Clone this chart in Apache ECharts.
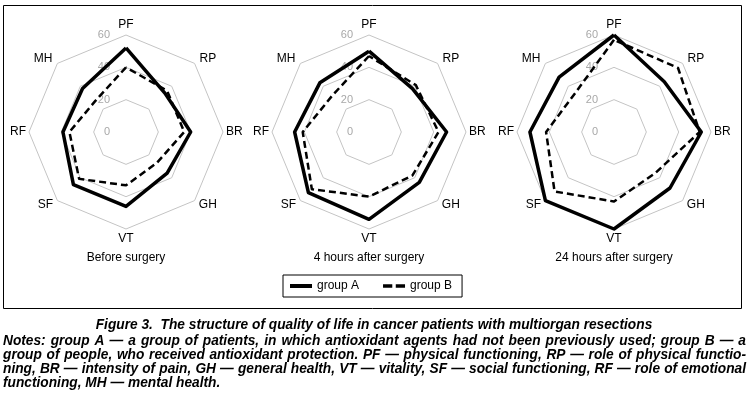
<!DOCTYPE html>
<html><head><meta charset="utf-8">
<script src="https://cdn.jsdelivr.net/npm/echarts@6/dist/echarts.min.js"></script>
<style>html,body{margin:0;padding:0;background:#fff}#c{width:751px;height:396px}</style>
</head><body><div id="c"></div>
<script>
// ---- data ----
const categories = ['PF', 'RP', 'BR', 'GH', 'VT', 'SF', 'RF', 'MH']; // clockwise from top
const panelTitles = ['Before surgery', '4 hours after surgery', '24 hours after surgery'];
const groupA_before = [52, 34, 40, 36, 46, 46, 39, 38];
const groupB_before = [40, 36, 36, 27, 33, 41, 35, 27];
const groupA_4h = [50, 38, 48, 44, 54, 53, 46, 43];
const groupB_4h = [47, 41, 43, 38, 40, 50, 41, 32];
const groupA_24h = [60, 44, 54, 49, 60, 60, 52, 48];
const groupB_24h = [57, 56, 53, 36, 43, 52, 42, 34];
const axisMin = 0, axisMax = 60, axisSplits = 3; // ticks 0,20,40,60
const seriesNames = ['group A', 'group B'];
const captionTitle = 'Figure 3.  The structure of quality of life in cancer patients with multiorgan resections';
const captionNotes = [
  'Notes: group A — a group of patients, in which antioxidant agents had not been previously used; group B — a',
  'group of people, who received antioxidant protection. PF — physical functioning, RP — role of physical functio-',
  'ning, BR — intensity of pain, GH — general health, VT — vitality, SF — social functioning, RF — role of emotional',
  'functioning, MH — mental health.'
];

// ---- layout ----
const centersX = [126, 369, 614];
const centerY = 132, R = 97;
const baseFont = '"Liberation Sans", Arial, sans-serif';
// per-category name gaps and vertical padding (clockwise order PF..MH)
const nameGaps = [4, 7, 3, 6, 4, 6, 3, 7];
const namePadTop = [0, 0, 0, 8, 0, 8, 0, 0];

// ECharts places radar indicators counter-clockwise; reorder so they appear clockwise
const order = [0, 7, 6, 5, 4, 3, 2, 1];
const reorder = arr => order.map(i => arr[i]);

const radars = centersX.map(cx => ({
  center: [cx, centerY],
  radius: R,
  startAngle: 90,
  shape: 'polygon',
  splitNumber: axisSplits,
  indicator: order.map((i, k) => ({
    name: categories[i], min: axisMin, max: axisMax,
    nameGap: nameGaps[i],
    nameTextStyle: { padding: [namePadTop[i], 0, 0, 0] },
    axisLabel: { show: k === 0 }
  })),
  nameGap: 3,
  axisName: { color: '#000', fontSize: 12, fontFamily: baseFont },
  splitLine: { lineStyle: { color: '#c4c4c4', width: 1 } },
  splitArea: { show: false },
  axisLine: { show: false },
  axisTick: { show: false },
  axisLabel: { show: false, color: '#a8a8a8', fontSize: 11, fontFamily: baseFont, margin: 16, align: 'right', verticalAlign: 'middle' }
}));

const panelData = [[groupA_before, groupB_before], [groupA_4h, groupB_4h], [groupA_24h, groupB_24h]];
const series = panelData.map((pair, p) => ({
  type: 'radar',
  radarIndex: p,
  symbol: 'none',
  silent: true,
  data: [
    { name: seriesNames[0], value: reorder(pair[0]),
      lineStyle: { color: '#000', width: 3.5, type: 'solid' }, itemStyle: { color: '#000' } },
    { name: seriesNames[1], value: reorder(pair[1]),
      lineStyle: { color: '#000', width: 2.5, type: [7, 4] }, itemStyle: { color: '#000' } }
  ]
}));

// caption graphic elements (slightly condensed by horizontal scaling), justified lines
const measure = document.createElement('canvas').getContext('2d');
const capSize = 14, capScale = 0.98;
const capCss = 'italic bold ' + capSize + 'px "Liberation Sans", Arial, sans-serif';
measure.font = capCss;
const graphics = [
  { type: 'rect', shape: { x: 3.5, y: 5.5, width: 738, height: 303 }, style: { fill: 'none', stroke: '#000', lineWidth: 1 }, silent: true }
];
panelTitles.forEach((t, i) => graphics.push({
  type: 'text', x: centersX[i], y: 258,
  style: { text: t, fill: '#000', font: '12px ' + baseFont, textAlign: 'center', textVerticalAlign: 'middle' }
}));
graphics.push({
  type: 'text', x: 374, y: 325, scaleX: capScale,
  style: { text: captionTitle, fill: '#000', font: capCss, textAlign: 'center', textVerticalAlign: 'middle' }
});
const left = 3, right = 746;
const spaceW = measure.measureText(' ').width;
captionNotes.forEach((line, li) => {
  const y = 341 + li * 14;
  if (li === captionNotes.length - 1) {
    graphics.push({ type: 'text', x: left, y, scaleX: capScale, style: { text: line, fill: '#000', font: capCss, textVerticalAlign: 'middle' } });
    return;
  }
  const words = line.split(' ');
  const raw = words.map(w => measure.measureText(w).width);
  const rawTotal = raw.reduce((a, b) => a + b, 0);
  // shrink a line if its natural width would not fit
  const minGap = spaceW * 0.6;
  const sc = Math.min(capScale, (right - left - minGap * (words.length - 1)) / rawTotal);
  const widths = raw.map(w => w * sc);
  const total = rawTotal * sc;
  const gap = (right - left - total) / (words.length - 1);
  let x = left;
  words.forEach((w, k) => {
    graphics.push({ type: 'text', x, y, scaleX: sc, style: { text: w, fill: '#000', font: capCss, textVerticalAlign: 'middle' } });
    x += widths[k] + gap;
  });
});

const chart = echarts.init(document.getElementById('c'), null, { renderer: 'canvas' });
chart.setOption({
  animation: false,
  color: ['#000', '#000'],
  legend: {
    left: 283, top: 275,
    orient: 'horizontal',
    data: [
      { name: seriesNames[0], icon: 'rect' },
      { name: seriesNames[1], icon: 'path://M0,0H8V3H0Z M11,0H19V3H11Z' }
    ],
    itemWidth: 22, itemHeight: 4, itemGap: 24,
    padding: [5, 10, 5, 7],
    borderColor: '#000', borderWidth: 1, borderRadius: 0,
    textStyle: { color: '#000', fontSize: 12, fontFamily: baseFont },
    selectedMode: false
  },
  radar: radars,
  series,
  graphic: graphics
});
</script></body></html>
